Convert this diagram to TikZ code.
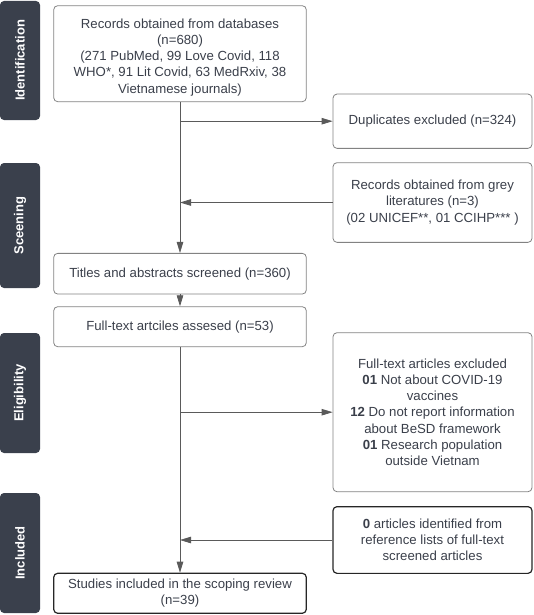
\documentclass[tikz,border=0pt]{standalone}
\usepackage{fontspec}
\setmainfont{Liberation Sans}
\usetikzlibrary{arrows.meta}

\definecolor{barcol}{RGB}{58,64,76}
\definecolor{txtcol}{RGB}{58,63,74}
\definecolor{edgecol}{RGB}{130,130,130}
\definecolor{linecol}{RGB}{90,90,90}

\tikzset{
  phase/.style={fill=barcol, rounded corners=4pt, rotate=90, text=white,
    font=\bfseries\fontsize{13}{16}\selectfont, minimum height=40pt, inner sep=0pt},
  box/.style={draw=edgecol, line width=0.8pt, rounded corners=4pt, text=txtcol,
    align=center, inner sep=0pt, font=\fontsize{13.2}{16.1}\selectfont},
  leftbox/.style={box, minimum width=252.6pt},
  rightbox/.style={box, minimum width=199pt},
  darkbox/.style={draw=black!85, line width=1.2pt},
  flow/.style={draw=linecol, line width=0.8pt, -{Triangle[length=11pt,width=6.5pt]}}
}

\begin{document}
\begin{tikzpicture}[x=1pt, y=-1pt]
%%%%%%%%%%%%%%%%%%%%%%%%%%%%%%%%%%%%%%%%%%% HELP LINES
%\draw[help lines] (0,0) grid[step=50] (534,615);
\useasboundingbox (0,0) rectangle (534,615);

%%%%%%%%%%%%%%%%%%%%%%%%%%%%%%%%%%%%%%%%%%% phases
\node[phase, minimum width=119pt] (ident) at (20,60.5) {Identification};
\node[phase, minimum width=125pt] (screen) at (20,225.5) {Sceening};
\node[phase, minimum width=120pt] (elig) at (20,393) {Eligibility};
\node[phase, minimum width=120pt] (incl) at (20,553) {Included};

%%%%%%%%%%%%%%%%%%%%%%%%%%%%%%%%%%%%%%%%%%% main column
\node[leftbox, minimum height=96pt] (records) at (180,53.7){\rule{0pt}{17pt}Records obtained from databases\\(n=680)\\(271 PubMed, 99 Love Covid, 118\\WHO*, 91 Lit Covid, 63 MedRxiv, 38\\Vietnamese journals)};
\node[leftbox, minimum height=40.7pt] (titles) at (180,273.7){Titles and abstracts screened (n=360)};
\node[leftbox, minimum height=40pt] (fulltext) at (180,326.7){Full-text artciles assesed (n=53)};
\node[leftbox, darkbox, minimum height=40pt] (studies) at (180,593.3){Studies included in the scoping review\\(n=39)};

%%%%%%%%%%%%%%%%%%%%%%%%%%%%%%%%%%%%%%%%%%% side column
\node[rightbox, minimum height=54.3pt] (dupl) at (432.5,121.2){Duplicates excluded (n=324)};
\node[rightbox, minimum height=79.7pt] (grey) at (432.5,202.5){Records obtained from grey\\literatures (n=3)\\(02 UNICEF**, 01 CCIHP*** )};
\node[rightbox, minimum height=159pt] (excl) at (432.5,412.2){Full-text articles excluded\\\textbf{01} Not about COVID-19\\vaccines\\\textbf{12} Do not report information\\about BeSD framework\\\textbf{01} Research population\\outside Vietnam};
\node[rightbox, darkbox, minimum height=66.7pt] (refs) at (432.5,540){\textbf{0} articles identified from\\reference lists of full-text\\screened articles};

%%%%%%%%%%%%%%%%%%%%%%%%%%%%%%%%%%%%%%%%%%% arrows
\draw[flow] (records.south) -- (titles.north);
\draw[flow] (records.south |- dupl.west) -- (dupl.west);
\draw[flow] (grey.west) -- (grey.west -| records.south);
\draw[flow] (titles.south) -- (fulltext.north);
\draw[flow] (fulltext.south) -- (studies.north);
\draw[flow] (fulltext.south |- excl.west) -- (excl.west);
\draw[flow] (refs.west) -- (refs.west -| fulltext.south);

\end{tikzpicture}
\end{document}
